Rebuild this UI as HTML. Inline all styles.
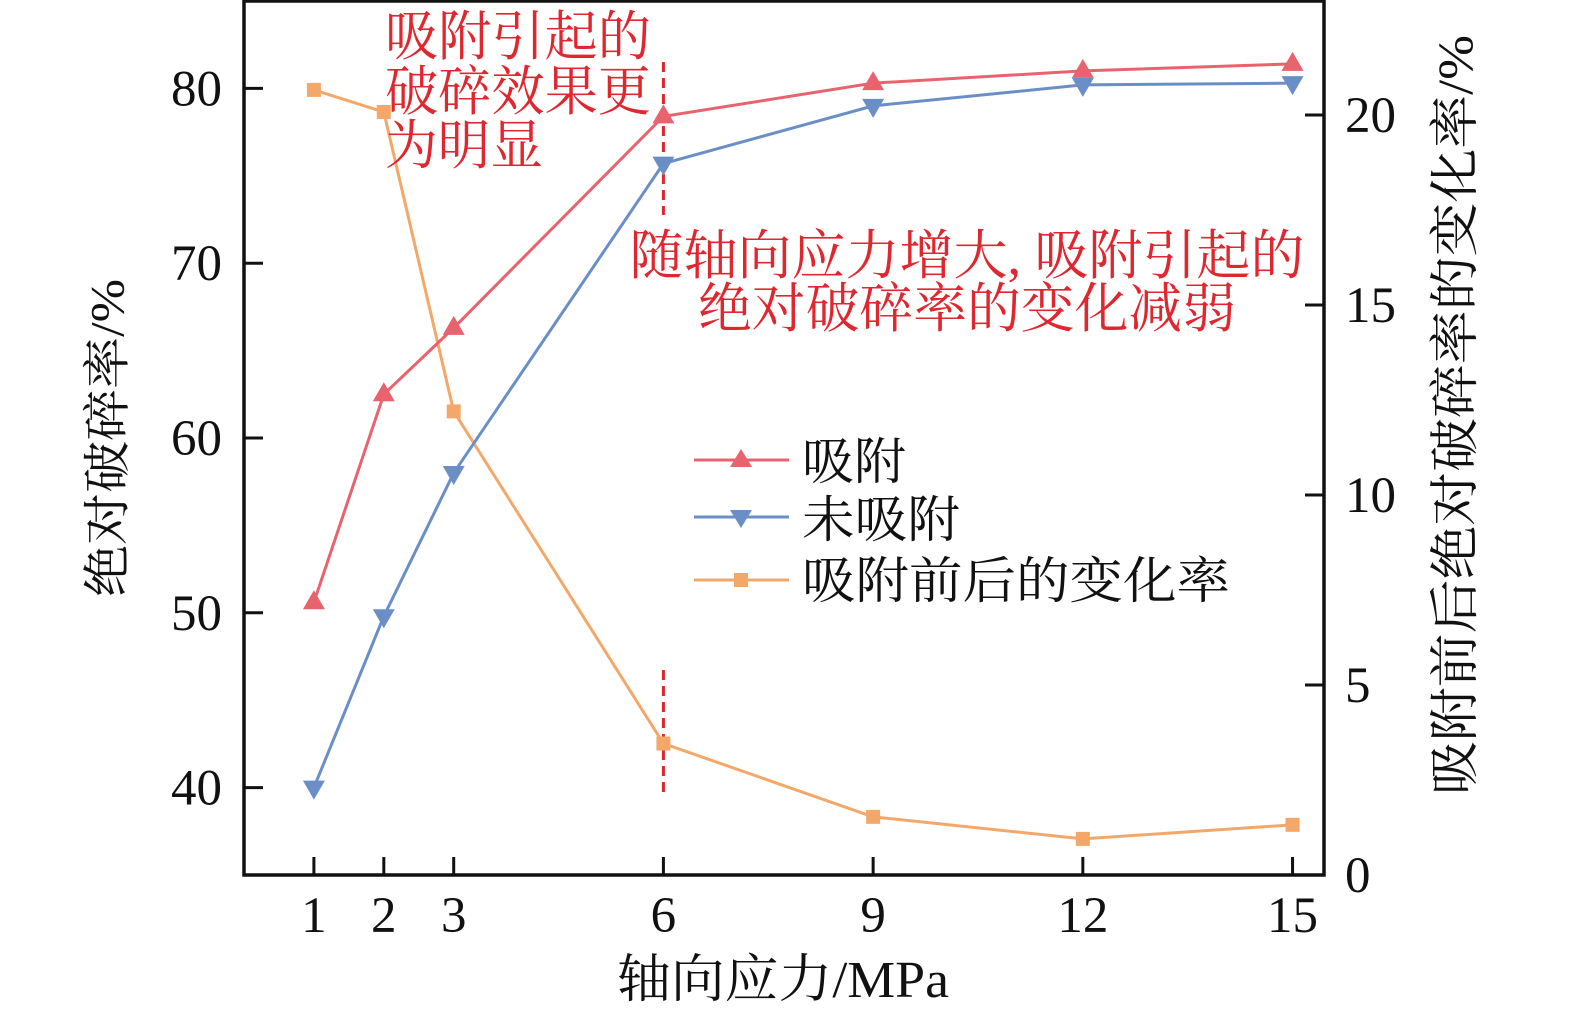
<!DOCTYPE html>
<html><head><meta charset="utf-8"><style>
html,body{margin:0;padding:0;background:#fff;}
svg{display:block;}
.tk{font-family:"Liberation Serif","Noto Serif CJK SC",serif;font-size:51px;fill:#111;}
.cj{font-family:"Liberation Serif","Noto Serif CJK SC",serif;}
</style></head><body>
<svg id="chart" width="1575" height="1019" viewBox="0 0 1575 1019" xmlns="http://www.w3.org/2000/svg">
<g id="plot"></g>
<g id="axes"></g>
<text class="cj" x="108" y="438" font-size="48" fill="#111" text-anchor="middle" dominant-baseline="central" textLength="318" lengthAdjust="spacingAndGlyphs" transform="rotate(-90 108 438)">绝对破碎率/%</text>
<text class="cj" x="1455" y="415" font-size="50" fill="#111" text-anchor="middle" dominant-baseline="central" textLength="760" lengthAdjust="spacingAndGlyphs" transform="rotate(-90 1455 415)">吸附前后绝对破碎率的变化率/%</text>
<text class="cj" x="783" y="997" font-size="52" fill="#111" text-anchor="middle" textLength="332" lengthAdjust="spacingAndGlyphs">轴向应力/MPa</text>
<g fill="#e0262f" font-size="54" class="cj">
<text x="385" y="55" textLength="266" lengthAdjust="spacingAndGlyphs">吸附引起的</text>
<text x="385" y="110" textLength="266" lengthAdjust="spacingAndGlyphs">破碎效果更</text>
<text x="385" y="164" textLength="158" lengthAdjust="spacingAndGlyphs">为明显</text>
</g>
<g fill="#e0262f" font-size="54" class="cj" text-anchor="middle">
<text x="967" y="274" textLength="675" lengthAdjust="spacingAndGlyphs">随轴向应力增大, 吸附引起的</text>
<text x="967" y="327" textLength="538" lengthAdjust="spacingAndGlyphs">绝对破碎率的变化减弱</text>
</g>
<g>
<line x1="694" y1="460" x2="789" y2="460" stroke="#e8636d" stroke-width="3"/>
<polygon points="741,449 752,467 730,467" fill="#e8636d"/>
<text class="cj" x="802" y="479" font-size="50" fill="#111" textLength="104" lengthAdjust="spacingAndGlyphs">吸附</text>
<line x1="694" y1="517" x2="789" y2="517" stroke="#6a8fc6" stroke-width="3"/>
<polygon points="730,510 752,510 741,528" fill="#6a8fc6"/>
<text class="cj" x="802" y="537" font-size="50" fill="#111" textLength="158" lengthAdjust="spacingAndGlyphs">未吸附</text>
<line x1="694" y1="580" x2="789" y2="580" stroke="#f3a86a" stroke-width="3"/>
<rect x="734" y="573" width="14" height="14" fill="#f3a86a"/>
<text class="cj" x="802" y="598" font-size="50" fill="#111" textLength="428" lengthAdjust="spacingAndGlyphs">吸附前后的变化率</text>
</g>
</svg>
<script>
const xCats = [1, 2, 3, 6, 9, 12, 15];
const adsorbed = [50.6, 62.5, 66.3, 78.4, 80.3, 81.0, 81.4];
const unadsorbed = [40.0, 49.8, 58.0, 75.7, 79.0, 80.2, 80.3];
const changeRate = [20.66, 20.08, 12.2, 3.46, 1.53, 0.95, 1.32];
const yTicks = [40, 50, 60, 70, 80];
const y2Ticks = [0, 5, 10, 15, 20];
const markerDashX = [6, 6];

const L=244, R=1324, T=1, B=875;
const sx = v => L + v/15.45*(R-L);
const sy = v => B - (v-35)/50*(B-T);
const sy2 = v => B - v/23*(B-T);
const NS='http://www.w3.org/2000/svg';
const plot=document.getElementById('plot'), axes=document.getElementById('axes');
function mk(tag, attrs, parent){const e=document.createElementNS(NS,tag);for(const k in attrs)e.setAttribute(k,attrs[k]);parent.appendChild(e);return e;}

let d1=mk('line',{x1:sx(markerDashX[0]),x2:sx(markerDashX[0]),y1:62,y2:215,stroke:'#e0262f','stroke-width':3,'stroke-dasharray':'10 6'},plot);


let d2=mk('line',{x1:sx(markerDashX[1]),x2:sx(markerDashX[1]),y1:670,y2:792,stroke:'#e0262f','stroke-width':3,'stroke-dasharray':'10 6'},plot);



function series(vals, yf, color, kind, name){
  const g=mk('g',{},plot);
  
  
  const pts=vals.map((v,i)=>sx(xCats[i])+','+yf(v)).join(' ');
  mk('polyline',{points:pts,fill:'none',stroke:color,'stroke-width':3},g);
  vals.forEach((v,i)=>{
    const x=sx(xCats[i]), y=yf(v); let m;
    if(kind==='up') m=mk('polygon',{points:`${x},${y-12} ${x+11},${y+7} ${x-11},${y+7}`,fill:color},g);
    else if(kind==='down') m=mk('polygon',{points:`${x-11},${y-7} ${x+11},${y-7} ${x},${y+12}`,fill:color},g);
    else m=mk('rect',{x:x-7,y:y-7,width:14,height:14,fill:color},g);
    
    
  });
}
series(changeRate, sy2, '#f3a86a', 'sq', 'series-change-rate');
series(unadsorbed, sy, '#6a8fc6', 'down', 'series-unadsorbed');
series(adsorbed, sy, '#e8636d', 'up', 'series-adsorbed');

let fr=mk('rect',{x:L,y:T,width:R-L,height:B-T,fill:'none',stroke:'#111','stroke-width':3.5},axes);


yTicks.forEach(v=>{
  const y=sy(v);
  mk('line',{x1:L,x2:L+19,y1:y,y2:y,stroke:'#111','stroke-width':3},axes);
  const t=mk('text',{x:222,y:y+17,'text-anchor':'end',class:'tk'},axes);
  t.textContent=v;
  
  
});
y2Ticks.forEach(v=>{
  const y=sy2(v);
  mk('line',{x1:R-19,x2:R,y1:y,y2:y,stroke:'#111','stroke-width':3},axes);
  const t=mk('text',{x:1345,y:y+17,'text-anchor':'start',class:'tk'},axes);
  t.textContent=v;
  
  
});
xCats.forEach(v=>{
  const x=sx(v);
  mk('line',{x1:x,x2:x,y1:B-18,y2:B,stroke:'#111','stroke-width':3},axes);
  const t=mk('text',{x:x,y:932,'text-anchor':'middle',class:'tk'},axes);
  t.textContent=v;
  
  
});
</script>
</body></html>
